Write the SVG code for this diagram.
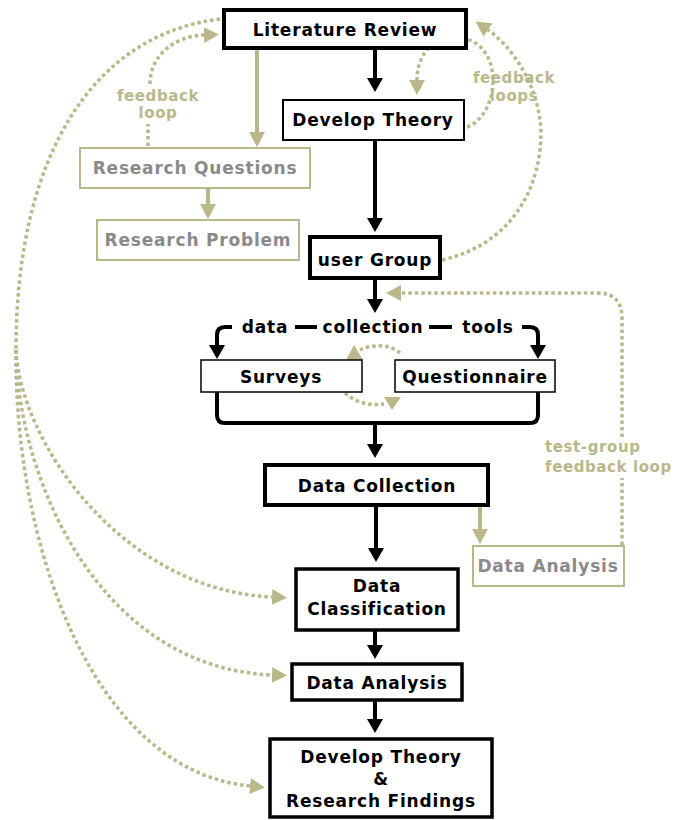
<svg xmlns="http://www.w3.org/2000/svg" width="675" height="820" viewBox="0 0 675 820">
<defs>
<style>
.t{font-family:"DejaVu Sans","Liberation Sans",sans-serif;font-weight:bold;font-size:17px;letter-spacing:0.8px;text-anchor:middle;fill:#000}
.g{fill:#8a8a8a}
.o{font-family:"DejaVu Sans","Liberation Sans",sans-serif;font-weight:bold;font-size:15px;letter-spacing:0.6px;fill:#bab88a}
.bx{fill:#fff;stroke:#000}
.ob{fill:#fff;stroke:#bab88a;stroke-width:2}
.ba{fill:none;stroke:#000;stroke-width:4;marker-end:url(#mb)}
.bl{fill:none;stroke:#000;stroke-width:4}
.oa{fill:none;stroke:#bab88a;stroke-width:4;marker-end:url(#mo)}
.od{fill:none;stroke:#bab88a;stroke-width:3.5;stroke-dasharray:3.5 3}
.odm{marker-end:url(#mo)}
</style>
<marker id="mb" viewBox="0 0 14 16" refX="0" refY="8" markerWidth="14" markerHeight="16" orient="auto" markerUnits="userSpaceOnUse"><path d="M0,0 L14,8 L0,16 z" fill="#000"/></marker>
<marker id="mo" viewBox="0 0 15 16" refX="0" refY="8" markerWidth="15" markerHeight="16" orient="auto" markerUnits="userSpaceOnUse"><path d="M0,0 L15,8 L0,16 z" fill="#bab88a"/></marker>
</defs>
<rect width="675" height="820" fill="#fff"/>

<g id="connectors">
<path class="ba" d="M375 48 V78"/>
<path class="ba" d="M375 140 V218"/>
<path class="ba" d="M375 278 V299"/>
<path class="ba" d="M232 327 H225 Q217 327 217 335 V345"/>
<path class="ba" d="M522 327 H530 Q538 327 538 335 V345"/>
<path class="bl" d="M295 327 H317 M429 327 H452"/>
<path class="bl" d="M217 392 V415 Q217 423 225 423 H530 Q538 423 538 415 V392"/>
<path class="ba" d="M375 423 V444"/>
<path class="ba" d="M376 505 V548"/>
<path class="ba" d="M375 630 V645"/>
<path class="ba" d="M375 700 V719"/>

<path class="oa" d="M257 48 V132"/>
<path class="oa" d="M208 188 V204"/>
<path class="oa" d="M480 505 V529"/>

<path class="od" d="M148 146 V124"/>
<path class="od odm" d="M150 84 C150 55 175 36 204 35"/>
<path class="od" d="M220 19 C90 35 16 160 16 350"/>
<path class="od odm" d="M16 350 C20 440 120 590 272 597"/>
<path class="od odm" d="M16 350 C18 480 100 668 272 675"/>
<path class="od odm" d="M16 350 C14 540 90 770 250 786"/>
<path class="od odm" d="M467 127 C500 115 505 45 462 38 C432 35 417 55 417 80"/>
<path class="od odm" d="M442 260 C530 240 545 160 540 120 C535 80 510 45 488 30"/>
<path class="od" d="M400 353 C390 344 372 344 360 350"/>
<polygon points="354,345 346,360 363,360" fill="#bab88a"/>
<path class="od" d="M345 393 C355 402 368 406 384 404"/>
<polygon points="392,410 384,397 401,397" fill="#bab88a"/>
<path class="od" d="M622 545 V478 M622 437 V318 Q622 293 597 293 H401"/>
<path d="M386 293 L401 285 L401 301 z" fill="#bab88a"/>
</g>

<g id="lit-review"><rect class="bx" x="224" y="10" width="242" height="38" stroke-width="4"/><text class="t" x="345" y="36">Literature Review</text></g>
<g id="develop-theory"><rect class="bx" x="283" y="100" width="181" height="40" stroke-width="2"/><text class="t" x="373" y="126">Develop Theory</text></g>
<g id="research-questions"><rect class="ob" x="80" y="148" width="230" height="40"/><text class="t g" x="195" y="174">Research Questions</text></g>
<g id="research-problem"><rect class="ob" x="97" y="220" width="202" height="40"/><text class="t g" x="198" y="246">Research Problem</text></g>
<g id="user-group"><rect class="bx" x="310" y="237" width="130" height="41" stroke-width="4"/><text class="t" x="375" y="266">user Group</text></g>
<g id="tools-label"><text class="t" x="265" y="333">data</text><text class="t" x="373" y="333">collection</text><text class="t" x="488" y="333">tools</text></g>
<g id="surveys"><rect class="bx" x="201" y="360" width="161" height="32" stroke-width="1.5"/><text class="t" x="281" y="383">Surveys</text></g>
<g id="questionnaire"><rect class="bx" x="395" y="360" width="160" height="32" stroke-width="1.5"/><text class="t" x="475" y="383">Questionnaire</text></g>
<g id="data-collection"><rect class="bx" x="265" y="465" width="223" height="40" stroke-width="4"/><text class="t" x="377" y="492">Data Collection</text></g>
<g id="data-analysis-test"><rect class="ob" x="473" y="546" width="151" height="40"/><text class="t g" x="548" y="572">Data Analysis</text></g>
<g id="data-classification"><rect class="bx" x="296" y="569" width="162" height="61" stroke-width="3.5"/><text class="t" x="377" y="592">Data</text><text class="t" x="377" y="615">Classification</text></g>
<g id="data-analysis"><rect class="bx" x="292" y="664" width="170" height="36" stroke-width="3.5"/><text class="t" x="377" y="689">Data Analysis</text></g>
<g id="findings"><rect class="bx" x="270" y="739" width="222" height="78" stroke-width="3.5"/><text class="t" x="381" y="763">Develop Theory</text><text class="t" x="381" y="785">&amp;</text><text class="t" x="381" y="807">Research Findings</text></g>

<g id="labels">
<text class="o" x="158" y="101" text-anchor="middle">feedback</text>
<text class="o" x="158" y="118" text-anchor="middle">loop</text>
<text class="o" x="514" y="83" text-anchor="middle">feedback</text>
<text class="o" x="514" y="101" text-anchor="middle">loops</text>
<text class="o" x="545" y="452">test-group</text>
<text class="o" x="545" y="472">feedback loop</text>
</g>
</svg>
